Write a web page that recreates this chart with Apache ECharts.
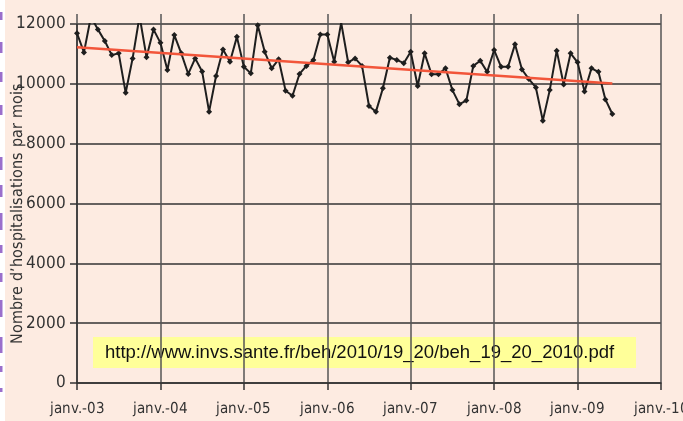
<!DOCTYPE html>
<html><head><meta charset="utf-8">
<script src="https://cdn.jsdelivr.net/npm/echarts@6/dist/echarts.min.js"></script>
<style>
@font-face{font-family:'CondFace';src:local('DejaVu Sans Condensed'),local('DejaVuSansCondensed'),local('Liberation Sans Narrow'),local('LiberationSansNarrow');}
html,body{margin:0;padding:0;background:#FDEBE1;}#c{width:683px;height:421px;}</style>
</head><body><div id="c"></div>
<script>
// Monthly hospitalisations, janv. 2003 -> juin 2009
const hospitalisations = [
 11690,11050,12240,11820,11430,10960,11020,9700,10850,12260,10890,11820,
 11370,10460,11630,11020,10330,10850,10410,9070,10260,11150,10740,11570,
 10570,10350,11960,11070,10520,10820,9770,9600,10330,10600,10800,11650,
 11650,10740,12040,10720,10850,10600,9260,9070,9850,10870,10800,10690,
 11070,9930,11020,10320,10320,10520,9790,9320,9440,10600,10770,10400,
 11130,10570,10570,11320,10480,10160,9880,8770,9790,11110,9980,11020,
 10720,9740,10520,10400,9480,8990
];
const trendStart = 11220;
const trendEnd = 10010;
const tickLabels = ['janv.-03','janv.-04','janv.-05','janv.-06','janv.-07','janv.-08','janv.-09','janv.-10'];
const yTitle = "Nombre d\u2019hospitalisations par mois";
const sourceText = 'http://www.invs.sante.fr/beh/2010/19_20/beh_19_20_2010.pdf';

const lineData = hospitalisations.map((v,i)=>[i,v]);
const trendData = [[0,trendStart],[hospitalisations.length-1,trendEnd]];
const narrow = 'CondFace,"DejaVu Sans",sans-serif';

// decorative page-edge fragments (left margin of the source document)
const edgeMarks = [[12,8],[42,11],[72,10],[105,10],[157,13],[185,12],[213,17],[245,8],[273,9],[300,17],[337,16],[366,6],[388,4]];
const edgeGraphics = [{type:'rect',shape:{x:0,y:0,width:5,height:421},style:{fill:'#FFFFFF'}}]
  .concat(edgeMarks.map(m=>({type:'rect',shape:{x:0,y:m[0],width:2.5,height:m[1]},style:{fill:'#9A6FCC'}})));

function render(){
const chart = echarts.init(document.getElementById('c'));
chart.setOption({
  backgroundColor:'#FDEBE1',
  animation:false,
  grid:{left:77,right:22,top:24,bottom:38,containLabel:false,outerBoundsMode:'none'},
  xAxis:[{
    type:'value',min:0,max:84,interval:12,
    axisLine:{show:true,lineStyle:{color:'#333',width:1.5}},
    axisTick:{show:true,length:7,lineStyle:{color:'#333',width:1.5}},
    splitLine:{show:true,lineStyle:{color:'#555',width:1.5}},
    axisLabel:{margin:19,fontFamily:narrow,fontSize:15,color:'#333',
      formatter:v=>tickLabels[Math.round(v/12)]}
  },{
    type:'value',position:'top',min:0,max:84,interval:12,
    axisLine:{show:false},
    axisTick:{show:true,length:10,lineStyle:{color:'#555',width:1.5}},
    splitLine:{show:false},axisLabel:{show:false}
  }],
  yAxis:{
    type:'value',min:0,max:12000,interval:2000,
    axisLine:{show:true,lineStyle:{color:'#333',width:1.5}},
    axisTick:{show:true,length:7,lineStyle:{color:'#333',width:1.5}},
    splitLine:{show:true,lineStyle:{color:'#333',width:1.5}},
    axisLabel:{margin:11,fontFamily:narrow,fontSize:17,color:'#333',formatter:v=>String(v)}
  },
  series:[{
    type:'line',data:lineData,symbol:'diamond',symbolSize:6,
    lineStyle:{color:'#1e1e1e',width:2},itemStyle:{color:'#1e1e1e'},z:3
  },{
    type:'line',data:trendData,symbol:'none',
    lineStyle:{color:'#F2553A',width:2.5},z:4
  }],
  graphic:edgeGraphics.concat([{
    type:'text',x:18,y:213,rotation:Math.PI/2,
    style:{text:yTitle,font:'16px '+narrow,fill:'#333',align:'center',verticalAlign:'middle'}
  },{
    type:'group',left:93,top:337,children:[
      {type:'rect',shape:{x:0,y:0,width:543,height:31},style:{fill:'#FFFF99'}},
      {type:'text',x:12,y:16,style:{text:sourceText,font:'18.5px "Liberation Sans",Arial,sans-serif',fill:'#111',verticalAlign:'middle'}}
    ]
  }])
});
}
if (document.fonts && document.fonts.load) {
  document.fonts.load('16px CondFace').then(render, render);
} else { render(); }
</script></body></html>
